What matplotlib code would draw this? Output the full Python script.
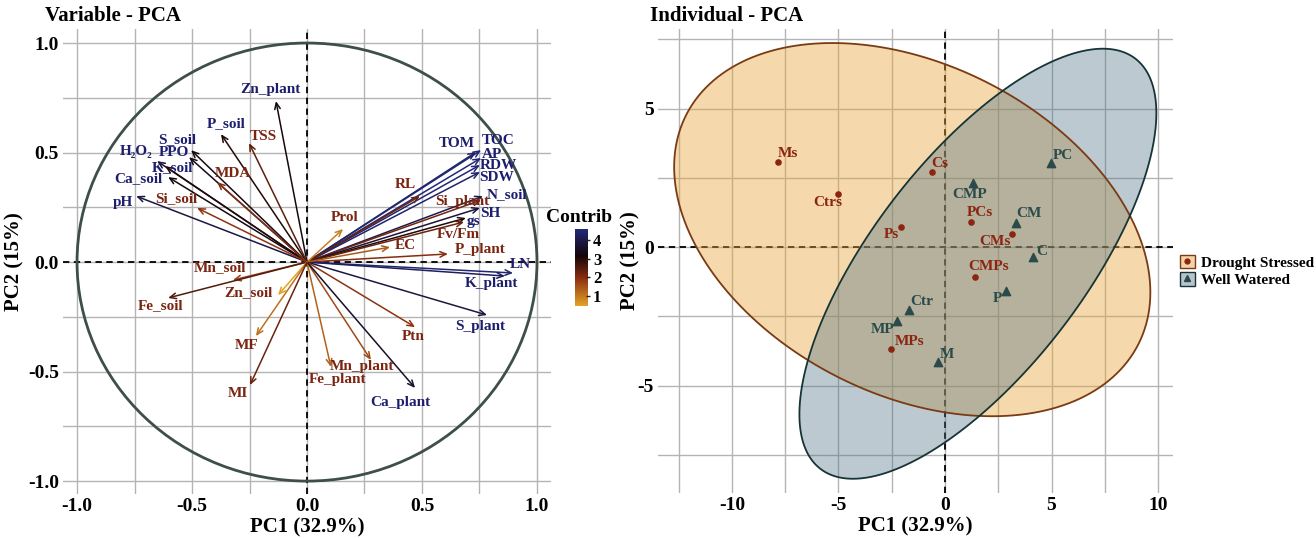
import numpy as np
import matplotlib
matplotlib.use("Agg")
import matplotlib.pyplot as plt
from matplotlib.colors import LinearSegmentedColormap, Normalize
from matplotlib.cm import ScalarMappable
from matplotlib.patches import Circle, Patch, Polygon
from matplotlib.lines import Line2D

plt.rcParams['font.family'] = ['Liberation Serif', 'DejaVu Serif']
plt.rcParams['font.weight'] = 'bold'
plt.rcParams['axes.unicode_minus'] = False

# ---- variables (correlation circle) ----
var_names = ['Zn_plant', 'P_soil', 'TSS', 'S_soil', 'H₂O₂', 'PPO', 'K_soil', 'Ca_soil', 'pH',
             'Si_soil', 'MDA', 'TOM', 'TOC', 'AP', 'RDW', 'SDW', 'N_soil', 'Si_plant', 'SH',
             'gs', 'Fv/Fm', 'P_plant', 'LN', 'K_plant', 'RL', 'EC', 'Prol', 'S_plant', 'Ptn',
             'Mn_plant', 'Fe_plant', 'Ca_plant', 'Mn_soil', 'Fe_soil', 'Zn_soil', 'MF', 'MI']
var_pc1 = [-0.135, -0.374, -0.252, -0.504, -0.652, -0.513, -0.617, -0.604, -0.743,
           -0.478, -0.391, 0.735, 0.757, 0.757, 0.752, 0.752, 0.765, 0.757, 0.752,
           0.691, 0.683, 0.613, 0.896, 0.861, 0.491, 0.361, 0.157, 0.783, 0.470,
           0.278, 0.104, 0.470, -0.322, -0.604, -0.126, -0.222, -0.248]
var_pc2 = [0.735, 0.584, 0.543, 0.511, 0.461, 0.479, 0.438, 0.388, 0.301,
           0.247, 0.365, 0.502, 0.511, 0.475, 0.443, 0.411, 0.301, 0.283, 0.247,
           0.201, 0.183, 0.037, -0.050, -0.064, 0.301, 0.068, 0.151, -0.242, -0.297,
           -0.447, -0.479, -0.575, -0.082, -0.164, -0.151, -0.338, -0.562]
var_contrib = [3.3, 3.0, 2.4, 3.3, 3.6, 3.4, 3.0, 3.3, 3.9,
               1.9, 2.0, 4.3, 4.5, 4.6, 4.5, 4.4, 4.0, 2.2, 3.8,
               3.0, 2.3, 2.0, 4.5, 4.2, 2.3, 1.4, 0.9, 3.9, 1.9,
               1.6, 1.3, 3.6, 1.7, 2.5, 0.46, 1.1, 2.3]

# label offsets from the arrow tip, pixels (x right, y up)
var_off = [(-6, 12), (5, 11), (14, 7), (-14, 10), (-21, 10), (-15, 5), (7, -2), (-30, -2), (-13, -6),
           (-21, 9), (16, 9), (-19, 9), (17, 10), (11, 4), (18, 0), (17, -5), (24, 1), (-19, -1), (10, -6),
           (8, -3), (-6, -13), (32, 4), (7, 8), (-13, -7), (-15, 12), (15, 2), (2, 11), (-7, -11), (-2, -9),
           (-9, -7), (7, -13), (-15, -15), (-13, 12), (-8, -8), (-30, 2), (-9, -9), (-12, -8)]

# ---- individuals ----
ind_names_ds = ['Ms', 'Ctrs', 'Ps', 'Cs', 'PCs', 'CMs', 'CMPs', 'MPs']
ind_pc1_ds = [-7.84, -5.02, -2.07, -0.61, 1.22, 3.15, 1.41, -2.54]
ind_pc2_ds = [3.07, 1.91, 0.72, 2.71, 0.90, 0.47, -1.08, -3.68]
ind_names_ww = ['PC', 'CMP', 'CM', 'C', 'P', 'Ctr', 'MP', 'M']
ind_pc1_ww = [4.98, 1.31, 3.33, 4.13, 2.86, -1.69, -2.25, -0.33]
ind_pc2_ww = [3.03, 2.31, 0.87, -0.36, -1.59, -2.27, -2.67, -4.15]

off_ds = [(10, 8), (-10, -8), (-9, -7), (8, 8), (9, 10), (-17, -8), (14, 10), (19, 7)]
off_ww = [(12, 8), (-3, -11), (13, 9), (9, 5), (-9, -7), (13, 8), (-14, -9), (9, 7)]

navy = '#1E1E6E'
brown = '#7B2410'
ds_col = '#8B2510'
ww_col = '#2B4A4A'

cmap = LinearSegmentedColormap.from_list('contrib', [(0.0, '#E2A326'), (0.36, '#8B2E10'),
                                                     (0.65, '#140505'), (1.0, '#22297A')])
norm = Normalize(min(var_contrib), max(var_contrib))

fig = plt.figure(figsize=(13.16, 5.38), dpi=100)
W, H = 1316, 538


def px_axes(x0, y0, x1, y1):
    return fig.add_axes([x0 / W, 1 - y1 / H, (x1 - x0) / W, (y1 - y0) / H])


def style(ax):
    for s in ax.spines.values():
        s.set_visible(False)
    ax.grid(True, which='both', color='#B4B4B4', lw=1.0)
    ax.set_axisbelow(True)
    ax.tick_params(which='both', length=0, pad=3, labelsize=14)
    for t in ax.get_xticklabels() + ax.get_yticklabels():
        t.set_fontweight('bold')
    ax.axhline(0, color='black', ls=(0, (3.5, 2.5)), lw=1.3, zorder=1.5)
    ax.axvline(0, color='black', ls=(0, (3.5, 2.5)), lw=1.3, zorder=1.5)


# ================= left: variables =================
ax1 = px_axes(63, 29, 551, 494)
ax1.set_xlim(-1.061, 1.061)
ax1.set_ylim(-1.059, 1.064)
ax1.set_xticks([-1, -0.5, 0, 0.5, 1])
ax1.set_yticks([-1, -0.5, 0, 0.5, 1])
ax1.set_xticks(np.arange(-0.75, 1, 0.5), minor=True)
ax1.set_yticks(np.arange(-0.75, 1, 0.5), minor=True)
ax1.set_xticklabels(['-1.0', '-0.5', '0.0', '0.5', '1.0'])
ax1.set_yticklabels(['-1.0', '-0.5', '0.0', '0.5', '1.0'])
style(ax1)
ax1.add_patch(Circle((0, 0), 1, fill=False, ec='#3E4F48', lw=2.0, zorder=2))

for name, x, y, c, off in zip(var_names, var_pc1, var_pc2, var_contrib, var_off):
    col = cmap(norm(c))
    ax1.annotate('', xy=(x, y), xytext=(0, 0),
                 arrowprops=dict(arrowstyle='->,head_length=0.45,head_width=0.2',
                                 color=col, lw=1.1, shrinkA=0, shrinkB=0), zorder=3)
    tcol = navy if c >= 2.8 else brown
    ax1.annotate(name, xy=(x, y), xytext=off, textcoords='offset pixels',
                 ha='center', va='center', fontsize=11, color=tcol, fontweight='bold', zorder=4)

ax1.set_xlabel('PC1 (32.9%)', fontsize=15, fontweight='bold', labelpad=2)
ax1.set_ylabel('PC2 (15%)', fontsize=15, fontweight='bold')
ax1.yaxis.set_label_coords(-0.078, 0.5)
fig.text(45 / W, 1 - 16 / H, 'Variable - PCA', fontsize=15, fontweight='bold', va='center', ha='left')

# colour bar
cax = px_axes(575, 229, 588, 306)
cb = fig.colorbar(ScalarMappable(norm=norm, cmap=cmap), cax=cax, ticks=[1, 2, 3, 4])
cb.outline.set_visible(False)
cax.tick_params(length=3, width=1, color='#222222', labelsize=12, pad=2, direction='inout')
for t in cax.get_yticklabels():
    t.set_fontweight('bold')
fig.text(546 / W, 1 - 217 / H, 'Contrib', fontsize=14, fontweight='bold', va='center', ha='left')

# ================= right: individuals =================
ax2 = px_axes(658, 29, 1173, 493)
ax2.set_xlim(-13.47, 10.70)
ax2.set_ylim(-8.88, 7.87)
ax2.set_xticks([-10, -5, 0, 5, 10])
ax2.set_yticks([-5, 0, 5])
ax2.set_xticks([-12.5, -7.5, -2.5, 2.5, 7.5], minor=True)
ax2.set_yticks([-7.5, -2.5, 2.5, 7.5], minor=True)
style(ax2)


def norm_ellipse(x, y, level=0.95, n=200):
    # same construction as ggplot2 stat_ellipse(type = "norm")
    x = np.asarray(x)
    y = np.asarray(y)
    d = len(x) - 1
    fq = (d / 2.0) * ((1 - level) ** (-2.0 / d) - 1)  # qf(level, 2, d)
    r = np.sqrt(2 * fq)
    cov = np.cov(x, y)
    R = np.linalg.cholesky(cov).T
    t = np.linspace(0, 2 * np.pi, n)
    unit = np.column_stack([np.cos(t), np.sin(t)])
    return np.array([x.mean(), y.mean()]) + r * unit @ R


e_ds = norm_ellipse(ind_pc1_ds, ind_pc2_ds)
e_ww = norm_ellipse(ind_pc1_ww, ind_pc2_ww)
ax2.add_patch(Polygon(e_ds, closed=True, fc='#E8A63A', alpha=0.42, ec='none', zorder=2))
ax2.add_patch(Polygon(e_ds, closed=True, fill=False, ec='#7A3A12', lw=1.3, zorder=2.2))
ax2.add_patch(Polygon(e_ww, closed=True, fc='#4F7286', alpha=0.38, ec='none', zorder=2.1))
ax2.add_patch(Polygon(e_ww, closed=True, fill=False, ec='#173434', lw=1.3, zorder=2.2))

ax2.scatter(ind_pc1_ds, ind_pc2_ds, s=14, color=ds_col, marker='o', zorder=4)
ax2.scatter(ind_pc1_ww, ind_pc2_ww, s=36, color=ww_col, marker='^', zorder=4)
for name, x, y, off in zip(ind_names_ds, ind_pc1_ds, ind_pc2_ds, off_ds):
    ax2.annotate(name, xy=(x, y), xytext=off, textcoords='offset pixels', ha='center', va='center',
                 fontsize=11, color=ds_col, fontweight='bold', zorder=5)
for name, x, y, off in zip(ind_names_ww, ind_pc1_ww, ind_pc2_ww, off_ww):
    ax2.annotate(name, xy=(x, y), xytext=off, textcoords='offset pixels', ha='center', va='center',
                 fontsize=11, color=ww_col, fontweight='bold', zorder=5)

ax2.set_xlabel('PC1 (32.9%)', fontsize=15, fontweight='bold', labelpad=2)
ax2.set_ylabel('PC2 (15%)', fontsize=15, fontweight='bold')
ax2.yaxis.set_label_coords(-0.034, 0.5)
fig.text(650 / W, 1 - 16 / H, 'Individual - PCA', fontsize=15, fontweight='bold', va='center', ha='left')

h_ds = (Patch(fc='#F5D3A8', ec='#7A3A12', lw=1.0), Line2D([], [], marker='o', ls='', color=ds_col, ms=3.5))
h_ww = (Patch(fc='#B6C4CC', ec='#173434', lw=1.0), Line2D([], [], marker='^', ls='', color=ww_col, ms=5))
fig.legend([h_ds, h_ww], ['Drought Stressed', 'Well Watered'], loc='center left',
           bbox_to_anchor=(1166 / W, 1 - 271 / H), frameon=False, fontsize=11,
           handlelength=1.0, handleheight=1.0, handletextpad=0.4, labelspacing=0.15,
           prop={'weight': 'bold', 'size': 11})

fig.savefig('out.png', dpi=100)
